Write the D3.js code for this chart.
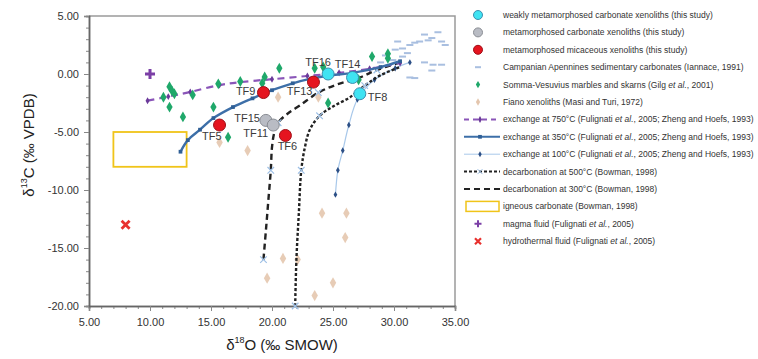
<!DOCTYPE html>
<html>
<head>
<meta charset="utf-8">
<script src="https://cdn.jsdelivr.net/npm/d3@7"></script>
<style>
body{margin:0;background:#fff}
svg{display:block;font-family:"Liberation Sans",Arial,sans-serif}
</style>
</head>
<body>
<svg id="chart" width="758" height="359"></svg>
<script>
// samples of this study [name, d18O, d13C]
var weaklyMeta = [["TF16",24.6,0.0],["TF14",26.6,-0.3],["TF8",27.2,-1.7]];
var metaCarb = [["TF15",19.5,-4.0],["TF11",20.1,-4.4]];
var micaceous = [["TF9",19.3,-1.6],["TF13",23.4,-0.7],["TF5",15.7,-4.4],["TF6",21.1,-5.3]];

// literature data [d18O, d13C]
var campanian = [[30.7,2.2],[31.3,2.5],[31.7,2.7],[32.1,2.8],[32.8,2.9],[33.1,3.1],[33.6,3.6],[33.9,2.8],[34.2,2.5],
	[31.1,1.8],[30.7,1.5],[29.9,1.2],[32.5,1.0],[33.2,0.8],[33.9,0.8],[33.1,0.3],[31.3,-0.3],[31.7,-0.35],
	[30.1,2.1],[29.3,1.6],[28.9,1.0],[30.3,2.8],[32.5,3.4]];
var sommaVesuvius = [[11.6,-1.1],[11.8,-1.45],[12.0,-1.7],[11.1,-2.0],[11.6,-2.85],[12.7,-3.7],[13.5,-1.8],
	[15.2,-2.85],[15.6,-0.85],[17.4,-0.65],[16.4,-5.45],[19.2,-0.8],[19.4,-0.25],[20.6,0.5],[23.5,0.5],
	[24.2,0.6],[24.6,-2.5],[27.1,-0.5],[28.2,1.5],[29.5,1.75],[29.5,1.35]];
var fiano = [[15.7,-5.9],[18.0,-6.6],[20.5,-2.0],[23.8,-2.0],[24.1,-12.0],[26.1,-12.0],[26.0,-14.1],
	[20.9,-15.9],[22.1,-16.0],[19.6,-17.6],[25.0,-18.0],[23.5,-19.1]];

// model curves
var exchange750 = [[9.8,-2.3],[11.5,-1.95],[13.3,-1.55],[15.7,-0.95],[17.4,-0.7],[20.0,-0.45],[22.9,-0.17],[25.5,0.1],[28.0,0.45],[30.5,0.95]];
var exchange350 = [[12.5,-6.7],[13.1,-5.7],[14.1,-4.8],[15.2,-3.8],[16.8,-2.85],[18.4,-2.1],[20.0,-1.4],[21.7,-0.8],[23.2,-0.4],[24.6,-0.15],[26.6,0.1],[28.9,0.6],[30.5,1.1]];
var exchange100 = [[25.2,-10.4],[25.4,-8.3],[25.8,-6.6],[26.3,-4.4],[27.0,-2.2],[28.4,-0.5],[30.1,0.5],[31.3,1.0]];
var decarb500 = [[21.9,-20.0],[22.0,-16.0],[22.2,-12.0],[22.4,-8.3],[22.7,-6.3],[23.1,-4.8],[23.9,-3.6],[25.0,-2.8],[26.4,-2.0],[27.6,-1.0],[28.9,-0.1],[30.5,0.6]];
var decarb300 = [[19.3,-16.0],[19.5,-13.5],[19.7,-10.9],[19.9,-8.3],[20.0,-6.3],[20.2,-5.0],[20.5,-4.2],[21.3,-3.4],[22.3,-2.7],[23.8,-1.6],[25.2,-0.95],[27.2,-0.3],[28.6,0.35],[30.5,1.0]];
var igneousBox = {x0:7,x1:13,y0:-5,y1:-8};
var magmaFluid = [[10.0,0.0]];
var hydroFluid = [[8.0,-13.0]];

// axes
var xTicks = [5,10,15,20,25,30,35];
var yTicks = [-20,-15,-10,-5,0,5];

var legendLabels = [
	"weakly metamorphosed carbonate xenoliths (this study)",
	"metamorphosed carbonate xenoliths (this study)",
	"metamorphosed micaceous xenoliths (this study)",
	"Campanian Apennines sedimentary carbonates (Iannace, 1991)",
	"Somma-Vesuvius marbles and skarns (Gilg et al., 2001)",
	"Fiano xenoliths (Masi and Turi, 1972)",
	"exchange at 750°C (Fulignati et al., 2005; Zheng and Hoefs, 1993)",
	"exchange at 350°C (Fulignati et al., 2005; Zheng and Hoefs, 1993)",
	"exchange at 100°C (Fulignati et al., 2005; Zheng and Hoefs, 1993)",
	"decarbonation at 500°C (Bowman, 1998)",
	"decarbonation at 300°C (Bowman, 1998)",
	"igneous carbonate (Bowman, 1998)",
	"magma fluid (Fulignati et al., 2005)",
	"hydrothermal fluid (Fulignati et al., 2005)"
];

var svg = d3.select("#chart");
var x = d3.scaleLinear().domain([5,35]).range([89,455]);
var y = d3.scaleLinear().domain([-20,5]).range([306,16]);

// frame top/right
svg.append("path")
	.attr("d","M"+x(5)+","+y(5)+"H"+x(35)+"V"+y(-20))
	.attr("fill","none").attr("stroke","#9a9a9a").attr("stroke-width",1.5);

var fmt = function(d){ return d.toFixed(2); };

var gxMinor = svg.append("g").attr("transform","translate(0,"+y(-20)+")")
	.call(d3.axisBottom(x).tickValues(d3.range(5,36,1)).tickSize(3).tickFormat(""));
var gx = svg.append("g").attr("transform","translate(0,"+y(-20)+")")
	.call(d3.axisBottom(x).tickValues(xTicks).tickSize(5).tickFormat(fmt));
var gyMinor = svg.append("g").attr("transform","translate("+x(5)+",0)")
	.call(d3.axisLeft(y).tickValues(d3.range(-20,6,1)).tickSize(3).tickFormat(""));
var gy = svg.append("g").attr("transform","translate("+x(5)+",0)")
	.call(d3.axisLeft(y).tickValues(yTicks).tickSize(5).tickFormat(fmt));

[gx,gy,gxMinor,gyMinor].forEach(function(g){
	g.select(".domain").attr("stroke","#666").attr("stroke-width",1.5);
	g.selectAll(".tick line").attr("stroke","#888");
	g.selectAll("text").attr("fill","#333").style("font-size","11px").style("font-family","'Liberation Sans',Arial,sans-serif");
});
gx.selectAll("text").attr("dy","1.1em");
gy.selectAll("text").attr("dx","-2");

// axis titles
var xt = svg.append("text").attr("x",282).attr("y",350).attr("text-anchor","middle")
	.attr("fill","#222").style("font-size","15px");
xt.append("tspan").text("δ");
xt.append("tspan").attr("dy",-7).style("font-size","9px").text("18");
xt.append("tspan").attr("dy",7).text("O (‰ SMOW)");

var yt = svg.append("text").attr("transform","translate(34,145) rotate(-90)").attr("text-anchor","middle")
	.attr("fill","#222").style("font-size","15px");
yt.append("tspan").text("δ");
yt.append("tspan").attr("dy",-7).style("font-size","9px").text("13");
yt.append("tspan").attr("dy",7).text("C (‰ VPDB)");

var plot = svg.append("g");

// igneous carbonate box
plot.append("rect")
	.attr("x",x(igneousBox.x0)).attr("y",y(igneousBox.y0))
	.attr("width",x(igneousBox.x1)-x(igneousBox.x0)).attr("height",y(igneousBox.y1)-y(igneousBox.y0))
	.attr("fill","none").attr("stroke","#f0c419").attr("stroke-width",1.8);

var line = d3.line().x(function(d){ return x(d[0]); }).y(function(d){ return y(d[1]); }).curve(d3.curveCatmullRom);

// Campanian carbonates: short dashes
plot.selectAll(".camp").data(campanian).enter().append("rect")
	.attr("x",function(d){ return x(d[0])-3.5; }).attr("y",function(d){ return y(d[1])-1; })
	.attr("width",7).attr("height",2).attr("fill","#a9bfe0");

// Fiano xenoliths
plot.selectAll(".fiano").data(fiano).enter().append("path")
	.attr("transform",function(d){ return "translate("+x(d[0])+","+y(d[1])+")"; })
	.attr("d",d3.symbol(d3.symbolDiamond,36)).attr("fill","#e4c6ae").attr("opacity",0.9);

// model curves
plot.append("path").datum(exchange100).attr("d",line)
	.attr("fill","none").attr("stroke","#a8c8ea").attr("stroke-width",1.2);
plot.selectAll(".m100").data(exchange100).enter().append("path")
	.attr("transform",function(d){ return "translate("+x(d[0])+","+y(d[1])+")"; })
	.attr("d",d3.symbol(d3.symbolDiamond,12)).attr("fill","#2c4f86");

plot.append("path").datum(decarb300).attr("d",line)
	.attr("fill","none").attr("stroke","#222").attr("stroke-width",2.4).attr("stroke-dasharray","6,4");
plot.append("path").datum(decarb500).attr("d",line)
	.attr("fill","none").attr("stroke","#222").attr("stroke-width",2.4).attr("stroke-dasharray","3,2");
[decarb300,decarb500].forEach(function(arr){
	plot.selectAll(null).data(arr.filter(function(d,i){ return i%3===0; })).enter().append("path")
		.attr("transform",function(d){ return "translate("+x(d[0])+","+y(d[1])+")"; })
		.attr("d",d3.symbol(d3.symbolX,30)).attr("fill","none").attr("stroke","#9ec0e6").attr("stroke-width",1.2);
});

plot.append("path").datum(exchange750).attr("d",line)
	.attr("fill","none").attr("stroke","#8a55b8").attr("stroke-width",2.2).attr("stroke-dasharray","7,5");
plot.selectAll(".m750").data(exchange750).enter().append("path")
	.attr("transform",function(d){ return "translate("+x(d[0])+","+y(d[1])+")"; })
	.attr("d",d3.symbol(d3.symbolDiamond,14)).attr("fill","#6b3a9a");

plot.append("path").datum(exchange350).attr("d",line)
	.attr("fill","none").attr("stroke","#3d6fa8").attr("stroke-width",2.4);
plot.selectAll(".m350").data(exchange350).enter().append("path")
	.attr("transform",function(d){ return "translate("+x(d[0])+","+y(d[1])+")"; })
	.attr("d",d3.symbol(d3.symbolSquare,14)).attr("fill","#2f5f96");

// Somma-Vesuvius
plot.selectAll(".sv").data(sommaVesuvius).enter().append("path")
	.attr("transform",function(d){ return "translate("+x(d[0])+","+y(d[1])+")"; })
	.attr("d",d3.symbol(d3.symbolDiamond,34)).attr("fill","#1fa86a");

// fluids
plot.selectAll(".magma").data(magmaFluid).enter().append("path")
	.attr("transform",function(d){ return "translate("+x(d[0])+","+y(d[1])+")"; })
	.attr("d","M-5,0H5M0,-5V5").attr("stroke","#7b3fa6").attr("stroke-width",3);
plot.selectAll(".hydro").data(hydroFluid).enter().append("path")
	.attr("transform",function(d){ return "translate("+x(d[0])+","+y(d[1])+")"; })
	.attr("d","M-4,-4L4,4M-4,4L4,-4").attr("stroke","#e8312e").attr("stroke-width",2.8);

// study samples
var studyStyle = [
	{data:weaklyMeta, fill:"#3fe3f2", stroke:"#3c8fb0"},
	{data:metaCarb, fill:"#b9bcc4", stroke:"#8a8d94"},
	{data:micaceous, fill:"#e5141f", stroke:"#a01018"}
];
studyStyle.forEach(function(s){
	plot.selectAll(null).data(s.data).enter().append("circle")
		.attr("cx",function(d){ return x(d[1]); }).attr("cy",function(d){ return y(d[2]); })
		.attr("r",6).attr("fill",s.fill).attr("stroke",s.stroke).attr("stroke-width",1);
});

// sample labels: offset from point in px, anchor
var labelPos = {
	TF16:[-10,-8,"middle"], TF14:[-5,-9,"middle"], TF8:[8,7,"start"], TF9:[-8,2,"end"],
	TF13:[-1,13,"end"], TF5:[2,15,"end"], TF15:[-6,2,"end"], TF11:[-5,12,"end"], TF6:[2,15,"middle"]
};
var allSamples = weaklyMeta.concat(metaCarb, micaceous);
plot.selectAll(".lbl").data(allSamples).enter().append("text")
	.attr("x",function(d){ return x(d[1]) + labelPos[d[0]][0]; })
	.attr("y",function(d){ return y(d[2]) + labelPos[d[0]][1]; })
	.attr("text-anchor",function(d){ return labelPos[d[0]][2]; })
	.attr("fill","#3a3a3a").style("font-size","11px").text(function(d){ return d[0]; });

// legend
var legend = svg.append("g");
var rowY = function(i){ return 15 + i*17.4; };
var mx = 478, tx = 503;

legendLabels.forEach(function(lab, i){
	var t = legend.append("text").attr("x",tx).attr("y",rowY(i)+3).attr("fill","#333").style("font-size","8.5px");
	var parts = lab.split("et al.");
	parts.forEach(function(p, j){
		t.append("tspan").text(p);
		if (j < parts.length-1) t.append("tspan").style("font-style","italic").text("et al.");
	});
});
var circ = function(i, s){
	legend.append("circle").attr("cx",mx).attr("cy",rowY(i)).attr("r",4.5)
		.attr("fill",s.fill).attr("stroke",s.stroke);
};
circ(0, studyStyle[0]); circ(1, studyStyle[1]); circ(2, studyStyle[2]);
legend.append("rect").attr("x",mx-3).attr("y",rowY(3)-1).attr("width",6).attr("height",2).attr("fill","#a9bfe0");
legend.append("path").attr("transform","translate("+mx+","+rowY(4)+")").attr("d",d3.symbol(d3.symbolDiamond,16)).attr("fill","#1fa86a");
legend.append("path").attr("transform","translate("+mx+","+rowY(5)+")").attr("d",d3.symbol(d3.symbolDiamond,16)).attr("fill","#e4c6ae");

var sample = function(i, stroke, w, dash){
	legend.append("line").attr("x1",464).attr("x2",500).attr("y1",rowY(i)).attr("y2",rowY(i))
		.attr("stroke",stroke).attr("stroke-width",w).attr("stroke-dasharray",dash);
};
sample(6,"#8a55b8",2,"5,4");
legend.append("path").attr("transform","translate("+(mx+2)+","+rowY(6)+")").attr("d",d3.symbol(d3.symbolDiamond,14)).attr("fill","#6b3a9a");
sample(7,"#3d6fa8",2,null);
legend.append("path").attr("transform","translate("+(mx+2)+","+rowY(7)+")").attr("d",d3.symbol(d3.symbolSquare,14)).attr("fill","#2f5f96");
sample(8,"#a8c8ea",1,null);
legend.append("path").attr("transform","translate("+(mx+2)+","+rowY(8)+")").attr("d",d3.symbol(d3.symbolDiamond,10)).attr("fill","#2c4f86");
sample(9,"#222",2,"3,2");
legend.append("path").attr("transform","translate("+(mx+2)+","+rowY(9)+")").attr("d",d3.symbol(d3.symbolX,18)).attr("stroke","#9ec0e6").attr("fill","none");
sample(10,"#222",2,"6,4");
legend.append("rect").attr("x",466).attr("y",rowY(11)-5).attr("width",33).attr("height",10)
	.attr("fill","none").attr("stroke","#f0c419").attr("stroke-width",1.5);
legend.append("path").attr("transform","translate("+mx+","+rowY(12)+")").attr("d","M-3.5,0H3.5M0,-3.5V3.5").attr("stroke","#7b3fa6").attr("stroke-width",2);
legend.append("path").attr("transform","translate("+mx+","+rowY(13)+")").attr("d","M-3,-3L3,3M-3,3L3,-3").attr("stroke","#e8312e").attr("stroke-width",2.2);
</script>
</body>
</html>
